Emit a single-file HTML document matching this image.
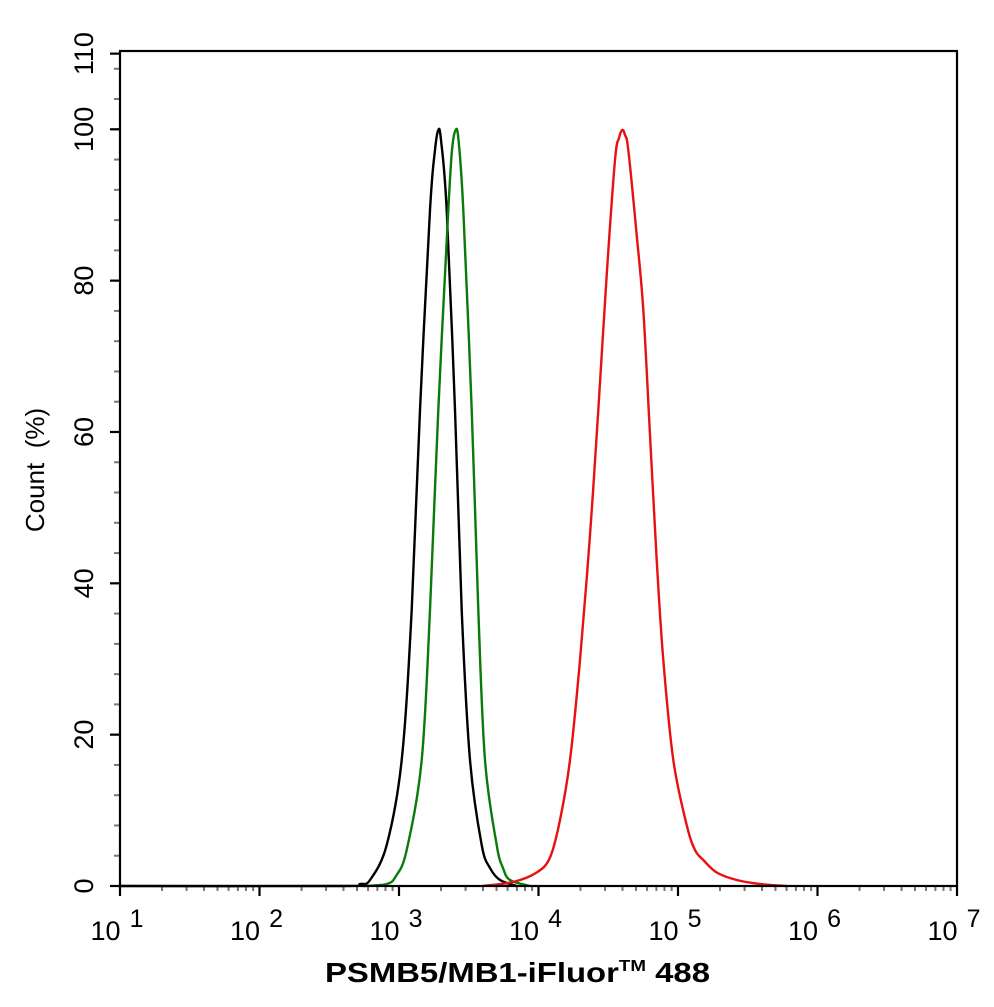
<!DOCTYPE html>
<html><head><meta charset="utf-8"><style>html,body{margin:0;padding:0;background:#fff}</style></head>
<body>
<svg xmlns="http://www.w3.org/2000/svg" width="994" height="1002" viewBox="0 0 994 1002" font-family="Liberation Sans, sans-serif">
<rect width="994" height="1002" fill="#fff"/>
<g id="ticks"></g>
<path id="c1" fill="none" stroke="#000" stroke-width="2.4" stroke-linejoin="round"/>
<path id="c2" fill="none" stroke="#0a7a0a" stroke-width="2.4" stroke-linejoin="round"/>
<path id="c3" fill="none" stroke="#e81010" stroke-width="2.4" stroke-linejoin="round"/>
<rect x="120" y="51" width="837" height="835" fill="none" stroke="#000" stroke-width="2.2"/>
<g font-size="27" fill="#000" id="lab"></g>
<text transform="translate(44,470) rotate(-90)" font-size="26" text-anchor="middle" xml:space="preserve">Count  (%)</text>
<text x="325" y="982" font-size="28" font-weight="bold" textLength="385" lengthAdjust="spacingAndGlyphs">PSMB5/MB1-iFluor<tspan font-size="16" dy="-11">TM</tspan><tspan dy="11"> 488</tspan></text>
</svg>
<script>
var ns="http://www.w3.org/2000/svg",t=document.getElementById("ticks"),l=document.getElementById("lab");
function ln(x1,y1,x2,y2,c,w){var e=document.createElementNS(ns,"line");e.setAttribute("x1",x1);e.setAttribute("y1",y1);e.setAttribute("x2",x2);e.setAttribute("y2",y2);e.setAttribute("stroke",c);e.setAttribute("stroke-width",w);t.appendChild(e);}
function tx(x,y,s,a,r){var e=document.createElementNS(ns,"text");e.setAttribute("x",x);e.setAttribute("y",y);e.setAttribute("text-anchor",a);if(r)e.setAttribute("transform",r);e.textContent=s;l.appendChild(e);return e;}
function cr(id,s){var p=s.trim().split(/\s+/).map(function(q){return q.split(",").map(Number);});
 var d="M"+p[0][0]+","+p[0][1];
 for(var i=0;i<p.length-1;i++){var p0=p[Math.max(i-1,0)],p1=p[i],p2=p[i+1],p3=p[Math.min(i+2,p.length-1)];
  d+=" C"+(p1[0]+(p2[0]-p0[0])/6).toFixed(2)+","+(p1[1]+(p2[1]-p0[1])/6).toFixed(2)+" "+(p2[0]-(p3[0]-p1[0])/6).toFixed(2)+","+(p2[1]-(p3[1]-p1[1])/6).toFixed(2)+" "+p2[0]+","+p2[1];}
 document.getElementById(id).setAttribute("d",d);}
cr("c1","120,886 343,886 360,884 370,880 386.7,845 401.7,760 411.7,610 420,410 430,210 435,150 438.3,130 441,140 446.7,210 455,410 461.7,610 470,760 481.7,845 490,868 500,880 516.7,886");
cr("c2","363,886 386.7,884 396,876 406.7,850 421.7,760 430,610 438.3,410 448.3,210 452,150 455.7,130 458.5,140 463.3,210 471.7,410 478.3,610 485,760 496.7,845 503,868 510,880 530,886");
cr("c3","483,886 513,882 536.7,872.5 550,857.5 560,820 570,760 580,660 590,535 598.3,410 606.7,275 615,160 619,138 622.3,130 625,135 628.3,150 636.7,235 643.3,310 650,435 656.7,560 663.3,660 673.3,760 686.7,825 695,850 703.3,860 716.7,872.5 736.7,880 760,884 786.7,886");
var dx=139.5;
for(var d=0;d<=6;d++){var x=120+d*dx;ln(x,886,x,896,"#000",2.2);
 var e=tx(x-3,940,"10","middle");var s=document.createElementNS(ns,"tspan");s.setAttribute("font-size","25");s.setAttribute("dy","-13");s.setAttribute("dx","9");s.textContent=(d+1);e.appendChild(s);
 if(d<6)for(var k=2;k<10;k++){var xm=x+Math.log10(k)*dx;ln(xm,886,xm,891,"#777",2);}}
var py=7.567;
for(var v=0;v<=110;v+=4){var y=886-v*py;ln(114,y,120,y,"#777",2);}
for(var v=0;v<=110;v+=20){var y=886-v*py;ln(110,y,120,y,"#000",2.2);tx(0,0,String(v),"middle","translate(93,"+y+") rotate(-90)");}
var y110=886-110*py;ln(110,y110,120,y110,"#000",2.2);tx(0,0,"110","middle","translate(93,"+y110+") rotate(-90)");
</script>
</body></html>
